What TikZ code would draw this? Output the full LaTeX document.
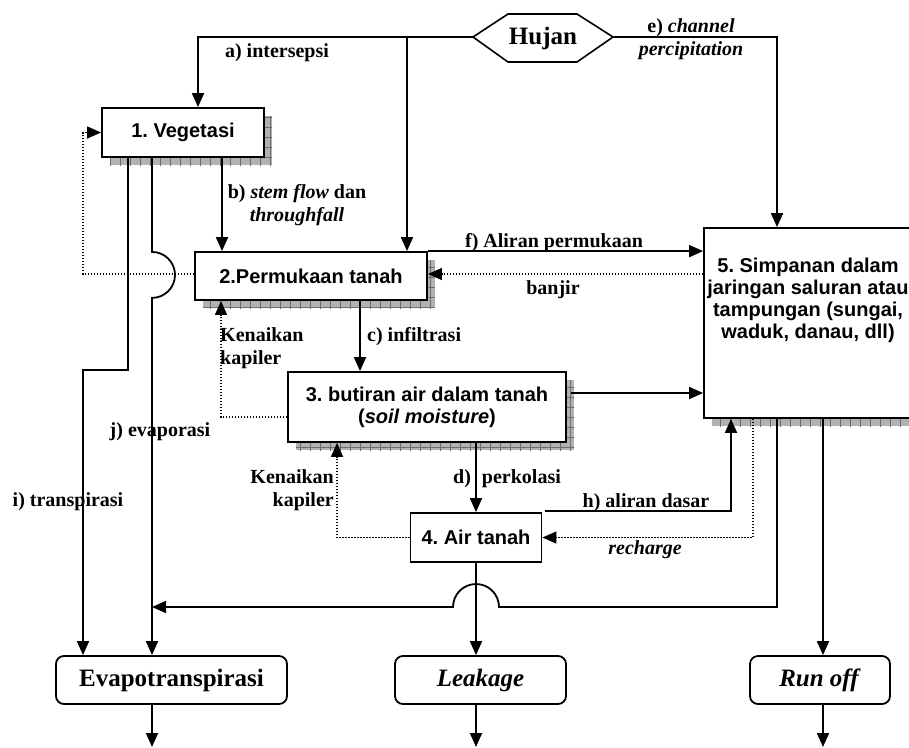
\documentclass[tikz,border=0pt]{standalone}
\usepackage{fontspec}
\setmainfont{Liberation Serif}
\setsansfont{Liberation Sans}
\usetikzlibrary{arrows.meta,calc,shadows,patterns.meta}
\frenchspacing
\begin{document}
\begin{tikzpicture}[x=1pt,y=-1pt,
 arr/.style={line width=1.8pt, -{Triangle[length=14pt,width=12pt]}},
 dotarr/.style={line width=1.3pt, dash pattern=on 1.3pt off 1.7pt, -{Triangle[length=14pt,width=12pt]}},
 lbl/.style={font=\frenchspacing\bfseries\fontsize{20}{23}\selectfont, inner sep=0pt, align=center},
 boxshadow/.style={general shadow={shadow xshift=8pt, shadow yshift=-8pt, fill=gray!60},
   general shadow={shadow xshift=8pt, shadow yshift=-8pt, pattern={Hatch[distance=10pt, line width=0.7pt]}, pattern color=gray!85!black}},
 box/.style={draw, line width=1.8pt, fill=white, font=\frenchspacing\sffamily\bfseries\fontsize{20}{22}\selectfont, inner sep=0pt, align=center},
 obox/.style={draw, line width=1.8pt, rounded corners=8pt, fill=white, font=\bfseries\fontsize{25}{28}\selectfont, inner sep=0pt, minimum height=48pt}
]
\useasboundingbox (0,0) rectangle (909,747);
% boxes
\node[box, boxshadow, minimum width=162pt, minimum height=49pt] (veg) at (183,132.5) {1. Vegetasi};
\node[box, boxshadow, minimum width=232pt, minimum height=48pt] (perm) at (311,276) {2.Permukaan tanah};
\node[box, boxshadow, minimum width=278pt, minimum height=70pt] (butir) at (427,407) {3. butiran air dalam tanah\\(\textit{soil moisture})};
\node[box, minimum width=131pt, minimum height=49pt] (air) at (476,537.5) {4. Air tanah};
\node[box, boxshadow, minimum width=208pt, minimum height=190pt] (simp) at (808,323) {};
\node[font=\frenchspacing\sffamily\bfseries\fontsize{20}{22}\selectfont, align=center, inner sep=0pt] (simptext) at (808,300) {5. Simpanan dalam\\jaringan saluran atau\\tampungan (sungai,\\waduk, danau, dll)};
\node[obox, minimum width=231pt] (evapo) at (171.5,680) {Evapotranspirasi};
\node[obox, minimum width=171pt] (leak) at (480.5,680) {\textit{Leakage}};
\node[obox, minimum width=140pt] (runoff) at (820,680) {\textit{Run off}};
% hujan
\draw[line width=1.6pt] (473,37) -- (508,14) -- (577,14) -- (613,37) -- (577,62) -- (508,62) -- cycle;
\node[font=\bfseries\fontsize{25}{28}\selectfont, inner sep=0pt] (hujan) at (543,38) {Hujan};
\coordinate (hl) at (473,37);
\coordinate (hr) at (613,37);
\coordinate (j1) at (407,37);
\coordinate (i1) at (83,370);
\coordinate (ej) at (152,607);
\coordinate (o1) at (152,747);
\coordinate (o2) at (476,747);
\coordinate (o3) at (823,747);
% connectors
\draw[arr] (hl) -| ($(veg.north)+(15,0)$);
\draw[arr] (j1) -- (j1 |- perm.north);
\draw[arr] (hr) -| ($(simp.north)+(-31,0)$);
\draw[arr] ($(veg.south)+(39,0)$) -- ($(perm.north)+(-89,0)$);
\draw[arr] ($(veg.south)+(-55,0)$) |- (i1) -- (i1 |- evapo.north);
\draw[arr] ($(veg.south)+(-31,0)$) -- ++(0,94) arc[start angle=270,end angle=450,radius=23] -- ($(evapo.north)+(-19.5,0)$);
\draw[dotarr] ($(perm.west)+(0,-2)$) -- ($(perm.west -| i1)+(0,-2)$) |- (veg.west);
\draw[arr] (perm.north east) -- (perm.north east -| simp.west);
\draw[dotarr] ($(perm.east -| simp.west)+(0,-2)$) -- ($(perm.east)+(0,-2)$);
\draw[arr] ($(perm.south)+(49,0)$) -- ($(butir.north)+(-67,0)$);
\draw[dotarr] ($(butir.west)+(0,10)$) -| ($(perm.south)+(-90,0)$);
\draw[arr] ($(butir.east)+(4,-14)$) -- ($(butir.east -| simp.west)+(0,-14)$);
\draw[arr] (air.north |- butir.south) -- (air.north);
\draw[arr] ($(air.north east)+(3,-1)$) -| ($(simp.south)+(-77,0)$);
\draw[dotarr] ($(simp.south)+(-55,0)$) |- (air.east);
\draw[dotarr] (air.west) -| ($(butir.south)+(-90,0)$);
\draw[arr] ($(simp.south)+(-31,0)$) |- (499,607) arc[start angle=0,end angle=-180,radius=23] -- (ej);
\draw[arr] (air.south) -- (air.south |- leak.north);
\draw[arr] ($(simp.south)+(15,0)$) -- ($(runoff.north)+(3,0)$);
\draw[arr] (evapo.south -| o1) -- (o1);
\draw[arr] (leak.south -| o2) -- (o2);
\draw[arr] (runoff.south -| o3) -- (o3);
% labels
\node[lbl] (la) at (277,53) {a) intersepsi};
\node[lbl] (le) at (691,39) {e) \textit{channel}\\\textit{percipitation}};
\node[lbl] (lb) at (297,205) {b) \textit{stem flow} dan\\\textit{throughfall}};
\node[lbl] (lf) at (554,243) {f) Aliran permukaan};
\node[lbl] (lbanjir) at (553,290) {banjir};
\node[lbl, anchor=west] (lc) at (367,337) {c) infiltrasi};
\node[lbl, anchor=west, align=left] (lk1) at (220,348) {Kenaikan\\kapiler};
\node[lbl] (lj) at (160,432) {j) evaporasi};
\node[lbl] (li) at (68,502) {i) transpirasi};
\node[lbl, anchor=east, align=right] (lk2) at (334,490) {Kenaikan\\kapiler};
\node[lbl, anchor=west] (ld) at (453,479) {d)\hspace{11pt}perkolasi};
\node[lbl] (lh) at (646,503) {h) aliran dasar};
\node[lbl] (lr) at (645,550) {\textit{recharge}};
\end{tikzpicture}
\end{document}
